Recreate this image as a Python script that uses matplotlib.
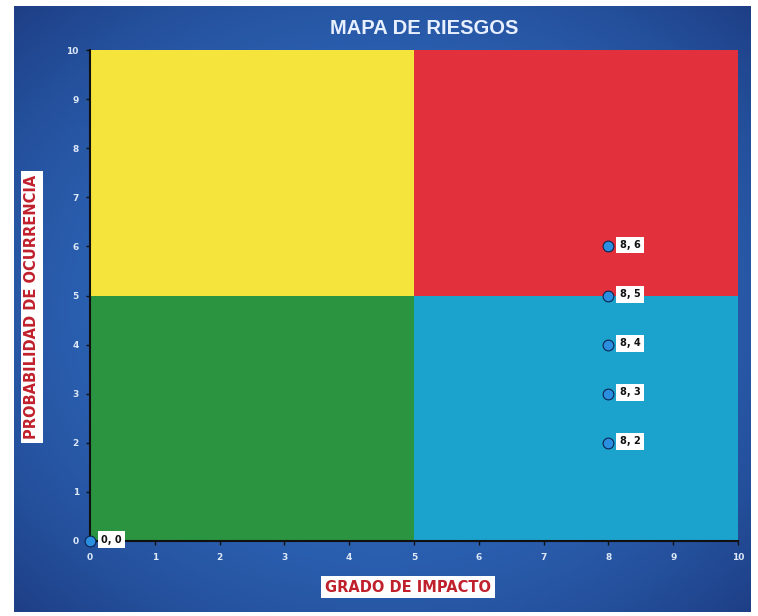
import matplotlib
matplotlib.use("Agg")
import matplotlib.pyplot as plt
import numpy as np
from matplotlib.patches import Rectangle

title = "MAPA DE RIESGOS"
x_label = "GRADO DE IMPACTO"
y_label = "PROBABILIDAD DE OCURRENCIA"
ticks = [0, 1, 2, 3, 4, 5, 6, 7, 8, 9, 10]
quad_x = [0, 5, 0, 5]
quad_y = [5, 5, 0, 0]
quad_w = 5
quad_colors = ["#f4e43c", "#e2303c", "#2a9440", "#1ba3cd"]
pt_x = [0, 8, 8, 8, 8, 8]
pt_y = [0, 6, 5, 4, 3, 2]

fig = plt.figure(figsize=(7.58, 6.16), dpi=100)
fig.patch.set_facecolor("white")

# Background blue panel with darker corners
bg = fig.add_axes([14/758, 1-612/616, (751-14)/758, (612-6)/616])
bg.set_axis_off()
yy, xx = np.mgrid[-1:1:200j, -1:1:200j]
r = np.clip(np.sqrt(xx**2 + yy**2) / 1.414, 0, 1)
c_center = np.array([0x2f, 0x6c, 0xc0]) / 255
c_edge = np.array([0x1e, 0x3f, 0x86]) / 255
img = c_center[None, None, :] * (1 - r[..., None]**2.2) + c_edge[None, None, :] * r[..., None]**2.2
bg.imshow(img, aspect="auto", extent=[0, 1, 0, 1])
bg.set_xlim(0, 1); bg.set_ylim(0, 1)

ax = fig.add_axes([90/758, 1-541/616, 648/758, 491/616])
ax.set_facecolor("none")
for qx, qy, qc in zip(quad_x, quad_y, quad_colors):
    ax.add_patch(Rectangle((qx, qy), quad_w, quad_w, facecolor=qc, edgecolor="none", zorder=1))
ax.set_xlim(0, 10)
ax.set_ylim(0, 10)
ax.set_xticks(ticks)
ax.set_yticks(ticks)
ax.tick_params(labelsize=6.5, length=3, width=1)
ax.tick_params(axis="x", colors="#101010", labelcolor="#dde8f8", pad=6)
ax.tick_params(axis="y", colors="#101010", labelcolor="#dde8f8", pad=5)
for lbl in ax.get_xticklabels() + ax.get_yticklabels():
    lbl.set_fontweight("bold")
for side in ["top", "right"]:
    ax.spines[side].set_visible(False)
for side in ["left", "bottom"]:
    ax.spines[side].set_color("#101010")
    ax.spines[side].set_linewidth(1.5)

ax.scatter(pt_x, pt_y, s=60, color="#2a8fe0", edgecolor="#0b2450", linewidth=0.8,
           zorder=5, clip_on=False)
for px, py in zip(pt_x, pt_y):
    ax.annotate(f"{px}, {py}", (px, py), xytext=(8, 1), textcoords="offset points",
                ha="left", va="center", fontsize=7, fontweight="bold", color="#111111",
                bbox=dict(boxstyle="square,pad=0.35", facecolor="white", edgecolor="none"),
                zorder=6, annotation_clip=False)

fig.text(424/758, 1-28/616, title, ha="center", va="center", fontsize=14.5,
         color="#e8f0ff", fontweight="bold", family="Liberation Sans")
fig.text(408/758, 1-587/616, x_label, ha="center", va="center", fontsize=10.5,
         color="#c0202c", fontweight="bold",
         bbox=dict(boxstyle="square,pad=0.25", facecolor="white", edgecolor="none"))
fig.text(32/758, 1-307/616, y_label, ha="center", va="center", fontsize=10.5,
         color="#c0202c", fontweight="bold", rotation=90,
         bbox=dict(boxstyle="square,pad=0.25", facecolor="white", edgecolor="none"))

fig.savefig("out.png", dpi=100)
